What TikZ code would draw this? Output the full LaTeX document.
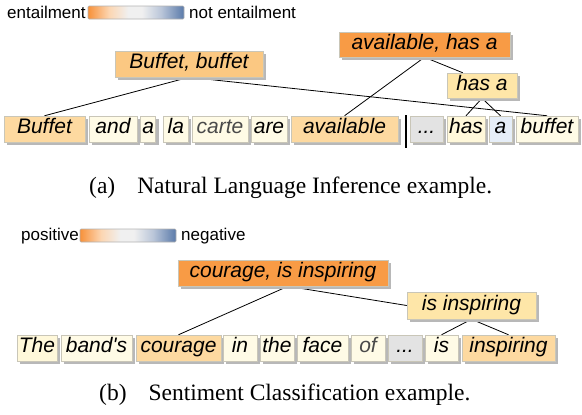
\documentclass[tikz,border=0pt]{standalone}
\usepackage{fontspec}
\setmainfont{Liberation Serif}
\newfontfamily\arialfont{Liberation Sans}
\usetikzlibrary{shadows,backgrounds}
\definecolor{cream}{HTML}{FFFBE6}
\definecolor{creamy}{HTML}{FFF8DA}
\definecolor{lorange}{HTML}{FDD9A0}
\definecolor{morange}{HTML}{FBC882}
\definecolor{dorange}{HTML}{F89B45}
\definecolor{lyellow}{HTML}{FEE6A8}
\definecolor{lgray}{HTML}{E3E3E3}
\definecolor{lblue}{HTML}{E6EEF8}
\definecolor{bordc}{HTML}{C9C6B8}
\definecolor{graytext}{HTML}{4A4A4A}
\definecolor{cbA}{HTML}{F7913A}
\definecolor{cbB}{HTML}{FCD6B2}
\definecolor{cbC}{HTML}{F0F0F0}
\definecolor{cbD}{HTML}{BAC6D9}
\definecolor{cbE}{HTML}{5A7AAA}
\pgfdeclarehorizontalshading{cbar}{100bp}{color(0bp)=(cbA); color(25bp)=(cbA); color(36bp)=(cbB); color(46bp)=(cbC); color(53bp)=(cbC); color(63bp)=(cbD); color(75bp)=(cbE); color(100bp)=(cbE)}
\tikzset{
  wbox/.style={draw=bordc, line width=0.5bp, inner sep=0pt, minimum height=26bp,
    text height=15bp, text depth=6bp,
    font=\arialfont\itshape\fontsize{21bp}{24bp}\selectfont,
    drop shadow={shadow xshift=2.8bp, shadow yshift=-2.8bp, fill=black!28, opacity=1}},
  legtext/.style={font=\arialfont\fontsize{17bp}{20bp}\selectfont, inner sep=0pt, anchor=base west},
  captext/.style={font=\fontsize{23.5bp}{27bp}\selectfont, inner sep=0pt, anchor=base west},
  cbarbox/.style={draw=black!30, line width=0.6bp, rounded corners=1bp, shading=cbar},
  conn/.style={line width=0.8bp, black}
}
\begin{document}
\begin{tikzpicture}[x=1bp,y=-1bp]
\useasboundingbox (0,0) rectangle (582,414);
% ---------- (a) legend
\node[legtext] (la1) at (7,18) {entailment};
\draw[cbarbox] (88,6) rectangle (184,19);
\node[legtext] (la2) at (189,18) {not entailment};
% ---------- (a) words
\node[wbox, fill=lorange, minimum width=81bp] (aBuffet) at (44.5,129) {Buffet};
\node[wbox, fill=cream, minimum width=48bp] (aand) at (113,129) {and};
\node[wbox, fill=cream, minimum width=15bp] (aa) at (148.2,129) {a};
\node[wbox, fill=cream, minimum width=25bp] (ala) at (175.8,129) {la};
\node[wbox, fill=cream, minimum width=56.5bp, text=graytext] (acarte) at (220,129) {carte};
\node[wbox, fill=cream, minimum width=36.5bp] (aare) at (269,129) {are};
\node[wbox, fill=lorange, minimum width=107bp] (aavail) at (344.5,129) {available};
\node[wbox, fill=lgray, minimum width=33bp] (adots) at (426.5,129) {...};
\node[wbox, fill=creamy, minimum width=38bp] (ahas) at (466,129) {has};
\node[wbox, fill=lblue, minimum width=23bp] (aa2) at (500.5,129) {a};
\node[wbox, fill=cream, minimum width=62bp] (abuffet) at (547,129) {buffet};
\draw[line width=1.4bp] (406,115) -- (406,148);
% ---------- (a) phrases
\node[wbox, fill=morange, minimum width=148bp] (aBB) at (189,64) {Buffet, buffet};
\node[wbox, fill=dorange, minimum width=171bp, minimum height=25bp] (aAH) at (424.5,44.5) {available, has a};
\node[wbox, fill=lyellow, minimum width=70bp, minimum height=25bp] (ahasa) at (482,85.5) {has a};
\begin{scope}[on background layer]
\draw[conn] (aBB.south) -- (aBuffet.north);
\draw[conn] (aBB.south) -- (abuffet.north);
\draw[conn] (aAH.south) -- (aavail.north);
\draw[conn] (aAH.south) -- ([xshift=16bp]ahasa.north west);
\draw[conn] (ahasa.south) -- (ahas.north);
\draw[conn] (ahasa.south) -- (aa2.north);
\end{scope}
\node[captext] (capa) at (89,193) {(a)\hspace{22bp}Natural Language Inference example.};
% ---------- (b) legend
\node[legtext] (lb1) at (21,240) {positive};
\draw[cbarbox] (80,229) rectangle (176,242);
\node[legtext] (lb2) at (181,240) {negative};
% ---------- (b) words
\node[wbox, fill=creamy, minimum width=40bp] (bThe) at (37,348) {The};
\node[wbox, fill=cream, minimum width=71bp] (bband) at (96.5,348) {band's};
\node[wbox, fill=lorange, minimum width=85bp] (bcourage) at (178.5,348) {courage};
\node[wbox, fill=cream, minimum width=34bp] (bin) at (240,348) {in};
\node[wbox, fill=cream, minimum width=34bp] (bthe) at (277,348) {the};
\node[wbox, fill=cream, minimum width=51bp] (bface) at (322.5,348) {face};
\node[wbox, fill=cream, minimum width=34bp, text=graytext] (bof) at (368,348) {of};
\node[wbox, fill=lgray, minimum width=34bp] (bdots) at (405,348) {...};
\node[wbox, fill=cream, minimum width=33bp] (bis) at (441.5,348) {is};
\node[wbox, fill=lorange, minimum width=93bp] (binsp) at (508.5,348) {inspiring};
% ---------- (b) phrases
\node[wbox, fill=dorange, minimum width=210bp] (bCI) at (283,273) {courage, is inspiring};
\node[wbox, fill=lyellow, minimum width=129bp, minimum height=27bp] (bII) at (471.5,305.5) {is inspiring};
\begin{scope}[on background layer]
\draw[conn] ([xshift=5bp]bCI.south) -- (bcourage.north);
\draw[conn] ([xshift=5bp]bCI.south) -- (bII.west);
\draw[conn] (bII.south) -- (bis.north);
\draw[conn] (bII.south) -- (binsp.north);
\end{scope}
\node[captext] (capb) at (99,400) {(b)\hspace{22bp}Sentiment Classification example.};
\end{tikzpicture}
\end{document}
